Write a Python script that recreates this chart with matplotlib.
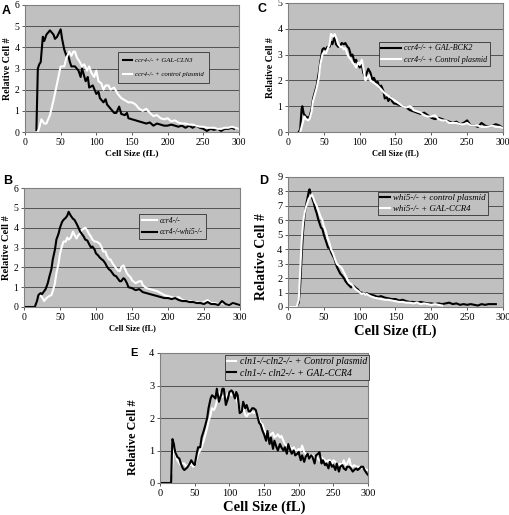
import matplotlib
matplotlib.use("Agg")
import matplotlib.pyplot as plt

plt.rcParams["font.family"] = ["Liberation Serif", "DejaVu Serif"]

W, H = 510, 515

# ---- panel A: ccr4 + GAL-CLN3 vs control plasmid
a_black_x = [16, 18, 20, 22, 25, 27, 30, 35, 40, 42, 45, 50, 52, 55, 58, 60, 63, 65, 70, 75, 78, 80,
             85, 88, 90, 95, 100, 103, 105, 110, 113, 115, 120, 125, 128, 132, 135, 140, 143, 145,
             150, 155, 160, 165, 170, 175, 180, 185, 190, 195, 200, 205, 210, 215, 220, 225, 230,
             235, 240, 245, 250, 255, 260, 265, 270, 275, 280, 285, 290, 293]
a_black_y = [0.1, 3.0, 3.2, 3.3, 4.5, 4.3, 4.6, 4.8, 4.6, 4.4, 4.5, 4.85, 4.4, 3.9, 3.6, 3.7, 3.3, 3.1,
             3.1, 2.9, 2.6, 3.0, 2.4, 2.6, 2.1, 2.2, 1.8, 1.9, 1.6, 1.4, 1.55, 1.3, 1.1, 0.9, 0.9, 1.2,
             0.85, 0.8, 0.9, 0.65, 0.6, 0.55, 0.5, 0.45, 0.4, 0.45, 0.3, 0.4, 0.35, 0.3, 0.3, 0.35,
             0.3, 0.25, 0.3, 0.2, 0.3, 0.2, 0.3, 0.2, 0.15, 0.05, 0.15, 0.1, 0.15, 0.05, 0.15, 0.15,
             0.2, 0.15]
a_white_x = [18, 20, 23, 27, 30, 35, 40, 45, 50, 55, 58, 62, 65, 68, 70, 73, 77, 80, 83, 87, 90, 93,
             97, 100, 103, 107, 110, 113, 117, 120, 125, 130, 135, 140, 145, 150, 155, 160, 165, 170,
             175, 180, 185, 190, 195, 200, 205, 210, 215, 220, 225, 230, 235, 240, 245, 250, 255,
             260, 265, 270, 275, 280, 285, 290, 295, 300]
a_white_y = [0.0, 0.2, 0.6, 0.4, 0.4, 0.8, 1.5, 2.3, 3.1, 3.1, 3.5, 3.8, 3.6, 3.8, 3.8, 3.5, 3.3, 3.1,
             3.2, 2.9, 3.1, 2.8, 2.6, 2.9, 2.4, 2.3, 2.0, 2.2, 2.2, 2.0, 2.1, 1.8, 1.6, 1.5, 1.4, 1.4,
             1.3, 1.1, 1.0, 1.1, 0.9, 0.75, 0.8, 0.65, 0.6, 0.65, 0.5, 0.55, 0.45, 0.4, 0.4, 0.35,
             0.35, 0.3, 0.25, 0.25, 0.2, 0.2, 0.2, 0.15, 0.15, 0.2, 0.2, 0.25, 0.2, 0.15]

# ---- panel B: ccr4 vs ccr4 whi5
b_black_x = [0, 15, 18, 20, 23, 25, 28, 30, 33, 35, 38, 40, 43, 45, 48, 50, 53, 55, 58, 60, 62, 65,
             68, 70, 73, 75, 78, 80, 83, 85, 88, 90, 93, 95, 98, 100, 103, 105, 108, 110, 113, 115,
             118, 120, 123, 125, 128, 130, 133, 135, 138, 140, 143, 145, 150, 155, 160, 165, 170,
             175, 180, 185, 190, 195, 200, 205, 210, 215, 220, 225, 230, 235, 240, 245, 250, 255,
             260, 265, 270, 275, 280, 285, 290, 295, 300]
b_black_y = [0, 0, 0.3, 0.6, 0.7, 0.65, 0.8, 0.9, 1.2, 1.5, 1.9, 2.4, 2.9, 3.4, 3.7, 4.0, 4.3, 4.4,
             4.5, 4.6, 4.8, 4.6, 4.45, 4.4, 4.2, 4.05, 3.8, 3.7, 3.55, 3.4, 3.35, 3.2, 3.0, 3.05,
             2.9, 2.7, 2.6, 2.5, 2.4, 2.35, 2.2, 2.05, 1.9, 1.85, 1.7, 1.6, 1.55, 1.45, 1.3, 1.3,
             1.45, 1.4, 1.2, 1.0, 0.95, 0.85, 0.9, 0.75, 0.7, 0.65, 0.6, 0.55, 0.5, 0.45, 0.45, 0.4,
             0.45, 0.35, 0.3, 0.3, 0.25, 0.25, 0.2, 0.2, 0.15, 0.25, 0.15, 0.15, 0.1, 0.3, 0.15,
             0.1, 0.2, 0.15, 0.1]
b_white_x = [22, 25, 28, 30, 33, 35, 38, 40, 43, 45, 48, 50, 53, 55, 58, 60, 62, 65, 68, 70, 73, 75,
             78, 80, 83, 85, 88, 90, 93, 95, 98, 100, 103, 105, 108, 110, 113, 115, 118, 120, 123,
             125, 128, 130, 133, 135, 138, 140, 143, 145, 148, 150, 155, 160, 163, 165, 170, 175,
             180, 185, 190, 195, 200, 205, 210, 215, 220, 225, 230, 235, 240, 245, 250, 255, 260,
             265, 270, 275, 280, 285, 290, 295, 300]
b_white_y = [0.6, 0.5, 0.3, 0.4, 0.5, 0.55, 0.6, 0.8, 1.2, 1.7, 2.2, 2.7, 3.1, 3.3, 3.3, 3.5, 3.4,
             3.5, 3.8, 3.65, 3.45, 3.6, 3.7, 3.9, 3.95, 4.0, 3.85, 3.7, 3.55, 3.4, 3.3, 3.3, 3.25,
             3.2, 3.0, 2.8, 2.8, 2.6, 2.4, 2.4, 2.2, 2.1, 1.95, 1.85, 1.8, 2.0, 2.1, 1.95, 1.7, 1.6,
             1.5, 1.35, 1.2, 1.3, 1.3, 1.1, 0.95, 0.9, 0.85, 0.8, 0.7, 0.6, 0.55, 0.5, 0.45, 0.5,
             0.35, 0.3, 0.3, 0.25, 0.25, 0.2, 0.25, 0.35, 0.2, 0.2, 0.15, 0.2, 0.15, 0.15, 0.15,
             0.15, 0.1]

# ---- panel C: ccr4 + GAL-BCK2 vs control plasmid
c_black_x = [15, 17, 19, 20, 22, 25, 28, 30, 33, 35, 38, 40, 43, 45, 48, 50, 53, 55, 58, 60, 62, 65,
             67, 70, 73, 75, 78, 80, 83, 85, 88, 90, 93, 95, 98, 100, 103, 105, 108, 110, 112, 115,
             118, 120, 123, 125, 128, 130, 133, 135, 138, 140, 143, 145, 148, 150, 155, 160, 165,
             170, 175, 180, 185, 190, 195, 200, 205, 210, 215, 220, 225, 230, 235, 240, 245, 250,
             255, 260, 265, 270, 275, 280, 285, 290, 295, 300]
c_black_y = [0, 0.1, 0.9, 1.0, 0.7, 0.6, 0.55, 0.6, 0.9, 1.3, 1.6, 1.8, 2.3, 2.7, 3.2, 3.25, 3.2,
             3.3, 3.3, 3.5, 3.4, 3.7, 3.4, 3.3, 3.35, 3.45, 3.4, 3.45, 3.3, 3.25, 2.95, 3.0, 2.7, 2.8,
             2.6, 2.5, 2.6, 2.3, 2.1, 2.3, 2.45, 2.3, 2.0, 2.1, 1.9, 1.95, 1.7, 1.8, 1.6, 1.3, 1.35,
             1.2, 1.35, 1.2, 1.1, 1.1, 1.05, 1.0, 0.95, 0.85, 0.8, 0.75, 0.7, 0.75, 0.65, 0.55, 0.5,
             0.55, 0.5, 0.45, 0.4, 0.35, 0.4, 0.3, 0.35, 0.45, 0.25, 0.25, 0.2, 0.35, 0.25, 0.2,
             0.25, 0.3, 0.25, 0.15]
c_white_x = [17, 20, 23, 25, 28, 30, 33, 35, 38, 40, 43, 45, 48, 50, 53, 55, 58, 60, 63, 65, 68, 70,
             73, 75, 78, 80, 83, 85, 88, 90, 93, 95, 98, 100, 103, 105, 108, 110, 113, 115, 120, 125,
             130, 135, 140, 145, 150, 155, 160, 165, 170, 173, 175, 180, 185, 190, 195, 200, 205,
             210, 215, 220, 225, 230, 235, 240, 245, 250, 255, 260, 265, 270, 275, 280, 285, 290,
             295, 300]
c_white_y = [0, 0.3, 0.6, 0.5, 0.45, 0.5, 0.8, 1.2, 1.5, 1.7, 2.1, 2.6, 3.0, 3.1, 3.05, 3.2, 3.4,
             3.8, 3.7, 3.8, 3.6, 3.4, 3.3, 3.3, 3.2, 3.25, 3.0, 2.9, 2.8, 2.7, 2.6, 2.5, 2.7, 2.6,
             2.8, 2.5, 2.0, 2.1, 2.2, 2.0, 1.9, 1.8, 1.65, 1.5, 1.4, 1.3, 1.2, 1.1, 1.0, 0.95, 1.0,
             0.95, 0.85, 0.8, 0.75, 0.65, 0.6, 0.6, 0.65, 0.5, 0.45, 0.45, 0.35, 0.35, 0.35, 0.3,
             0.3, 0.35, 0.25, 0.25, 0.25, 0.2, 0.2, 0.2, 0.25, 0.2, 0.2, 0.15]

# ---- panel D: whi5 + control plasmid vs GAL-CCR4
d_black_x = [0, 12, 15, 17, 19, 21, 23, 25, 27, 29, 30, 32, 34, 36, 38, 40, 42, 44, 46, 48, 50, 52,
             54, 56, 58, 60, 62, 65, 68, 70, 73, 75, 78, 80, 83, 85, 88, 90, 93, 95, 98, 100, 103,
             105, 108, 110, 115, 120, 125, 130, 135, 140, 145, 150, 155, 160, 165, 170, 175, 180,
             185, 190, 195, 200, 205, 210, 215, 220, 225, 230, 235, 240, 245, 250, 255, 260, 265,
             270, 275, 280, 285, 290]
d_black_y = [0, 0, 0.3, 1.5, 3.5, 5.2, 6.3, 7.0, 7.5, 8.0, 8.15, 7.8, 7.5, 7.2, 6.8, 6.5, 6.1, 5.8,
             5.5, 5.4, 5.0, 4.7, 4.4, 4.1, 4.1, 3.8, 3.6, 3.3, 2.8, 2.6, 2.3, 2.2, 2.0, 1.8, 1.6, 1.5,
             1.35, 1.5, 1.4, 1.3, 1.2, 1.0, 1.0, 0.95, 0.9, 0.95, 0.85, 0.8, 0.7, 0.75, 0.65, 0.6,
             0.55, 0.55, 0.45, 0.5, 0.4, 0.35, 0.35, 0.3, 0.35, 0.3, 0.25, 0.25, 0.2, 0.25, 0.2,
             0.25, 0.3, 0.2, 0.25, 0.15, 0.2, 0.15, 0.2, 0.15, 0.1, 0.2, 0.15, 0.2, 0.2, 0.2]
d_white_x = [0, 12, 15, 17, 19, 21, 23, 25, 27, 29, 31, 33, 35, 37, 40, 43, 45, 48, 50, 53, 55, 58,
             60, 63, 65, 68, 70, 73, 75, 78, 80, 83, 85, 88, 90, 93, 95, 98, 100, 103, 105, 108, 110,
             113, 115, 120, 125, 130, 135, 140, 145, 150, 155, 160, 165, 170, 175, 180, 185, 190,
             195, 200, 205, 210, 215]
d_white_y = [0, 0, 0.5, 2.5, 4.5, 5.8, 6.5, 6.9, 7.2, 7.5, 7.6, 7.8, 7.6, 7.3, 7.0, 6.6, 6.3, 6.0,
             5.6, 5.2, 4.8, 4.4, 4.0, 3.7, 3.4, 3.0, 2.9, 2.8, 2.7, 2.4, 2.2, 1.9, 1.7, 1.6, 1.5, 1.3,
             1.2, 1.1, 1.0, 0.9, 0.95, 0.85, 0.9, 0.8, 0.75, 0.65, 0.6, 0.55, 0.5, 0.5, 0.45, 0.4,
             0.35, 0.35, 0.3, 0.3, 0.25, 0.3, 0.2, 0.25, 0.2, 0.15, 0.2, 0.15, 0.1]

# ---- panel E: cln1 cln2 + control plasmid vs GAL-CCR4
e_black_x = [0, 15, 16, 17, 18, 20, 22, 25, 28, 30, 33, 35, 38, 40, 43, 45, 48, 50, 53, 55, 58, 60,
             63, 65, 68, 70, 73, 75, 78, 80, 82, 85, 88, 90, 92, 95, 98, 100, 103, 105, 108, 110,
             112, 115, 118, 120, 123, 125, 128, 130, 133, 135, 138, 140, 143, 145, 148, 150, 153,
             155, 158, 160, 163, 165, 168, 170, 173, 175, 178, 180, 183, 185, 188, 190, 193, 195,
             198, 200, 203, 205, 208, 210, 213, 215, 218, 220, 223, 225, 228, 230, 233, 235, 238,
             240, 243, 245, 248, 250, 253, 255, 258, 260, 263, 265, 268, 270, 273, 275, 278, 280,
             283, 285, 288, 290, 293, 295, 298, 300]
e_black_y = [0, 0, 0, 0.8, 1.35, 1.2, 0.95, 0.8, 0.75, 0.6, 0.45, 0.4, 0.45, 0.5, 0.6, 0.7, 0.6,
             0.55, 0.9, 1.1, 1.1, 1.4, 1.6, 1.75, 2.0, 2.3, 2.6, 2.7, 2.65, 2.6, 2.9, 2.5, 2.7, 2.9,
             2.9, 2.4, 2.6, 2.8, 2.85, 2.8, 2.6, 2.8, 2.7, 2.15, 2.2, 2.5, 2.3, 2.4, 2.2, 2.2, 2.3,
             2.3, 2.25, 2.1, 1.85, 1.8, 1.6, 1.5, 1.3, 1.6, 1.2, 1.4, 1.05, 1.3, 1.1, 1.0, 1.2, 1.1,
             1.0, 1.1, 0.9, 1.2, 1.0, 0.9, 1.0, 0.85, 0.9, 0.95, 0.7, 0.85, 0.65, 0.8, 0.9, 0.75,
             0.85, 0.8, 0.6, 0.85, 0.9, 0.95, 0.6, 0.7, 0.55, 0.6, 0.45, 0.65, 0.5, 0.55, 0.4, 0.6,
             0.35, 0.5, 0.55, 0.45, 0.4, 0.5, 0.5, 0.45, 0.35, 0.4, 0.45, 0.4, 0.45, 0.5, 0.5, 0.4,
             0.3, 0.25]
e_white_x = [17, 19, 21, 23, 25, 28, 30, 33, 35, 38, 40, 43, 45, 48, 50, 53, 55, 58, 60, 63, 65, 68,
             70, 73, 75, 78, 80, 83, 85, 88, 90, 93, 95, 98, 100, 103, 105, 108, 110, 113, 115, 118,
             120, 123, 125, 128, 130, 133, 135, 138, 140, 143, 145, 148, 150, 153, 155, 158, 160,
             163, 165, 168, 170, 173, 175, 178, 180, 183, 185, 188, 190, 193, 195, 198, 200, 203,
             205, 208, 210, 213, 215, 218, 220, 223, 225, 228, 230, 233, 235, 238, 240, 243, 245,
             248, 250, 253, 255, 258, 260, 263, 265, 268, 270, 273, 275, 278, 280, 283, 285, 288,
             290, 293, 295, 298, 300]
e_white_y = [0.3, 1.0, 1.1, 0.85, 0.7, 0.6, 0.55, 0.6, 0.6, 0.5, 0.55, 0.55, 0.6, 0.5, 0.55, 0.75,
             0.9, 1.0, 1.1, 1.3, 1.45, 1.7, 1.9, 2.1, 2.3, 2.25, 2.35, 2.6, 2.8, 2.7, 2.65, 2.7,
             2.65, 2.75, 2.8, 2.7, 2.75, 2.65, 2.6, 2.4, 2.25, 2.2, 2.3, 2.1, 2.05, 2.15, 2.15, 2.2,
             2.15, 2.2, 2.1, 1.95, 1.85, 1.8, 1.65, 1.5, 1.4, 1.45, 1.5, 1.55, 1.4, 1.45, 1.5, 1.4,
             1.45, 1.3, 1.2, 1.15, 1.2, 1.1, 1.05, 1.1, 1.0, 1.0, 1.05, 1.0, 1.15, 0.95, 0.9, 0.85,
             0.85, 0.8, 0.85, 0.75, 0.8, 0.75, 0.7, 0.8, 0.75, 0.7, 0.65, 0.7, 0.7, 0.6, 0.7, 0.65,
             0.6, 0.55, 0.6, 0.55, 0.7, 0.55, 0.6, 0.75, 0.55, 0.5, 0.55, 0.5, 0.5, 0.5, 0.45, 0.5,
             0.45, 0.4, 0.4]

BG = "#c0c0c0"


def panel(box, letter, letter_xy, ymax, series, leg_xy, tick=7, xl=7, yl=7, ylpos=0.5,
          lg=5.2, lpad=0.8, lsp=1.1, hlen=1.5, let=9):
    l, t, r, b = box
    ax = fig.add_axes([l / W, 1 - b / H, (r - l) / W, (b - t) / H])
    ax.set_facecolor(BG)
    ax.set_xlim(0, 300)
    ax.set_ylim(0, ymax)
    ax.set_xticks(range(0, 301, 50))
    ax.set_yticks(range(0, ymax + 1))
    ax.yaxis.grid(True, color="#404040", lw=0.6)
    ax.set_axisbelow(True)
    for s in ax.spines.values():
        s.set_color("#808080")
        s.set_linewidth(0.8)
    ax.tick_params(direction="out", length=2.5, width=0.6, color="#404040",
                   labelsize=tick, pad=1.5)
    for x, y, c, lab in series:
        ax.plot(x, y, color=c, lw=1.5, label=lab)
    ax.set_xlabel("Cell Size (fL)", fontsize=xl, fontweight="bold", labelpad=2)
    ax.set_ylabel("Relative Cell #", fontsize=yl, fontweight="bold", labelpad=2)
    if ylpos != 0.5:
        ax.yaxis.set_label_coords(-(l - letter_xy[0] - 9) / (r - l), ylpos)
    leg = ax.legend(loc="upper left", bbox_to_anchor=(leg_xy[0] / W, 1 - leg_xy[1] / H),
                    bbox_transform=fig.transFigure, frameon=True, fancybox=False,
                    facecolor=BG, edgecolor="#303030", framealpha=1,
                    prop={"family": "Liberation Serif", "style": "italic", "size": lg},
                    handlelength=hlen, handletextpad=0.4, borderpad=lpad, labelspacing=lsp,
                    borderaxespad=0)
    leg.get_frame().set_linewidth(0.6)
    fig.text(letter_xy[0] / W, 1 - letter_xy[1] / H, letter, family="Liberation Sans",
             fontweight="bold", fontsize=let, ha="left", va="center")
    return ax


fig = plt.figure(figsize=(W / 100, H / 100), dpi=100)

panel((25, 5, 239, 132), "A", (2, 10.5), 6,
      [(a_black_x, a_black_y, "black", "ccr4-/- + GAL-CLN3"),
       (a_white_x, a_white_y, "white", "ccr4-/- + control plasmid")], (118, 52),
      xl=6.8, yl=7.2, lg=4.9, lpad=0.8, lsp=1.2, hlen=1.3)
panel((288, 3, 503, 132), "C", (258, 9.5), 5,
      [(c_black_x, c_black_y, "black", "ccr4-/- + GAL-BCK2"),
       (c_white_x, c_white_y, "white", "ccr4-/- + Control plasmid")], (379, 42),
      xl=6, yl=7, lg=5.8, lpad=0.3, lsp=0.4, hlen=2.4)
panel((24, 188, 240, 307), "B", (3, 181), 6,
      [(b_white_x, b_white_y, "white", "ccr4-/-"),
       (b_black_x, b_black_y, "black", "ccr4-/-whi5-/-")], (139, 214),
      xl=6, yl=7.5, lg=5.5, lpad=0.35, lsp=0.5, hlen=2.0)
panel((288, 177, 503, 307), "D", (259, 181), 9,
      [(d_black_x, d_black_y, "black", "whi5-/- + control plasmid"),
       (d_white_x, d_white_y, "white", "whi5-/- + GAL-CCR4")], (378, 192),
      tick=7.5, xl=10.5, yl=10, ylpos=0.39, lg=6.4, lpad=0.2, lsp=0.3, hlen=1.1)
panel((160, 353, 368, 483), "E", (130, 353), 4,
      [(e_white_x, e_white_y, "white", "cln1-/-cln2-/- + Control plasmid"),
       (e_black_x, e_black_y, "black", "cln1-/- cln2-/- + GAL-CCR4")], (225, 355),
      tick=7.5, xl=10.5, yl=8.7, ylpos=0.35, lg=7, lpad=0.2, lsp=0.3, hlen=0.9, let=8)

fig.savefig("out.png", dpi=100, facecolor="white")
